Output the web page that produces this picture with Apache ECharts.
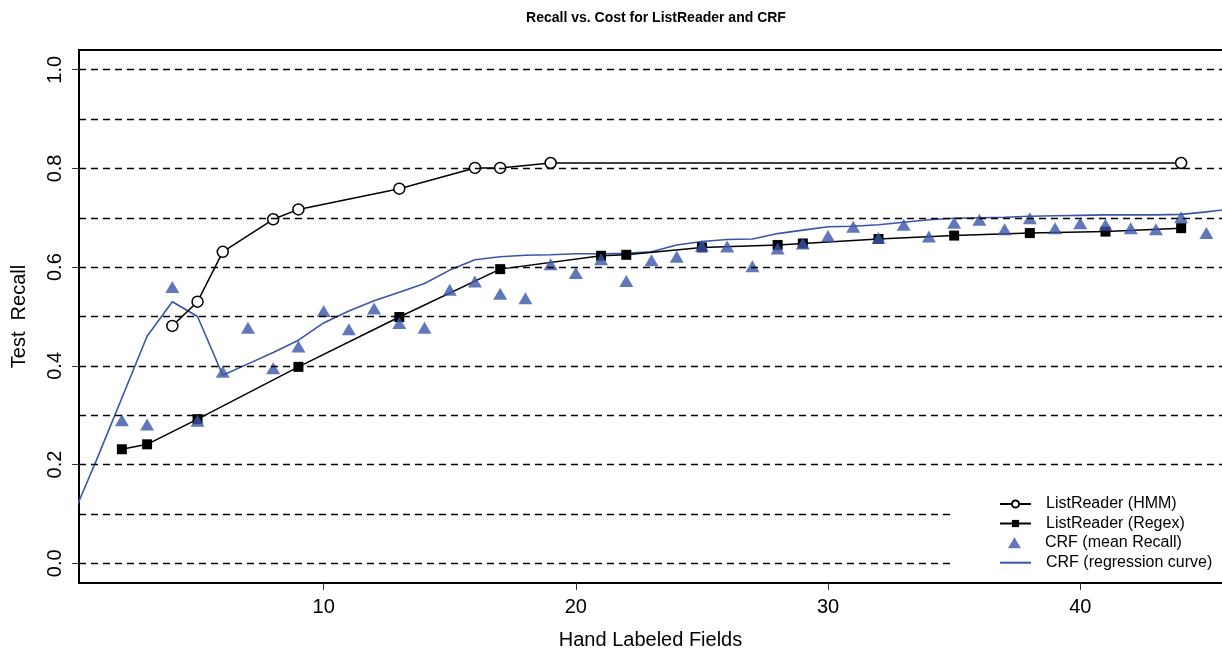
<!DOCTYPE html>
<html>
<head>
<meta charset="utf-8">
<script src="https://cdn.jsdelivr.net/npm/echarts@6/dist/echarts.min.js"></script>
<style>
html,body{margin:0;padding:0;background:#fff;}
#chart{width:1222px;height:656px;}
</style>
</head>
<body>
<div id="chart"></div>
<script>
// ---- data ----
const hmmX = [4, 5, 6, 8, 9, 13, 16, 17, 19, 44];
const hmmY = [0.481, 0.530, 0.631, 0.697, 0.717, 0.759, 0.801, 0.801, 0.811, 0.811];

const regexX = [2, 3, 5, 9, 13, 17, 21, 22, 25, 28, 29, 32, 35, 38, 41, 44];
const regexY = [0.231, 0.241, 0.292, 0.398, 0.499, 0.596, 0.623, 0.625, 0.640, 0.645, 0.648, 0.657, 0.664, 0.669, 0.672, 0.679];

const crfX = [2, 3, 4, 5, 6, 7, 8, 9, 10, 11, 12, 13, 14, 15, 16, 17, 18, 19, 20, 21, 22, 23,
  24, 25, 26, 27, 28, 29, 30, 31, 32, 33, 34, 35, 36, 37, 38, 39, 40, 41, 42, 43, 44, 45];
const crfY = [0.290, 0.281, 0.560, 0.289, 0.388, 0.477, 0.395, 0.439, 0.511, 0.474, 0.516, 0.487,
  0.477, 0.554, 0.571, 0.546, 0.537, 0.606, 0.588, 0.616, 0.572, 0.614, 0.621, 0.643, 0.642,
  0.602, 0.638, 0.648, 0.663, 0.682, 0.659, 0.686, 0.662, 0.690, 0.696, 0.677, 0.699, 0.679,
  0.689, 0.686, 0.679, 0.677, 0.701, 0.669];

const regX = [0, 1, 2, 3, 4, 5, 6, 7, 8, 9, 10, 11, 12, 13, 14, 15, 16, 17, 18, 19, 20, 21, 22, 23,
  24, 25, 26, 27, 28, 29, 30, 31, 32, 33, 34, 35, 36, 37, 38, 39, 40, 41, 42, 43, 44, 45, 46];
const regY = [0.090, 0.210, 0.335, 0.460, 0.530, 0.500, 0.381, 0.404, 0.427, 0.452, 0.487, 0.511,
  0.532, 0.549, 0.567, 0.594, 0.615, 0.621, 0.624, 0.625, 0.627, 0.627, 0.628, 0.631, 0.645,
  0.652, 0.656, 0.657, 0.668, 0.675, 0.682, 0.683, 0.686, 0.691, 0.696, 0.699, 0.700, 0.701,
  0.703, 0.704, 0.705, 0.706, 0.706, 0.706, 0.707, 0.712, 0.718];

const xTicks = [10, 20, 30, 40];
const yTicks = [0.0, 0.2, 0.4, 0.6, 0.8, 1.0];
const yGridLines = [0.0, 0.1, 0.2, 0.3, 0.4, 0.5, 0.6, 0.7, 0.8, 0.9, 1.0];

const names = ['ListReader (HMM)', 'ListReader (Regex)', 'CRF (mean Recall)', 'CRF (regression curve)'];

function pairs(xs, ys) { return xs.map((x, i) => [x, ys[i]]); }

const BLUE = '#3A55A8';
const FONT = '"Liberation Sans", Arial, sans-serif';
const legendText = {fontFamily: FONT, fontSize: 16, color: '#000', lineHeight: 16};
const X_MIN = 0.3, X_MAX = 45.62;
const frameLine = {show: true, onZero: false, lineStyle: {color: '#000', width: 2}};

const chart = echarts.init(document.getElementById('chart'), null, {renderer: 'canvas'});
chart.setOption({
  animation: false,
  backgroundColor: '#fff',
  title: {
    text: 'Recall vs. Cost for ListReader and CRF',
    left: 651,
    textAlign: 'center',
    top: 6,
    textStyle: {fontFamily: FONT, fontSize: 14, fontWeight: 'bold', color: '#000'}
  },
  grid: {left: 79, right: 0, top: 50, bottom: 73, show: false},
  legend: [
    {
      data: [names[0], names[1]],
      orient: 'vertical',
      left: 950,
      top: 486,
      padding: [10, 90, 50, 49],
      backgroundColor: '#fff',
      itemWidth: 31,
      itemHeight: 9,
      itemGap: 3.5,
      z: 20,
      textStyle: Object.assign({padding: [0, 0, 0, 10]}, legendText)
    },
    {
      data: [names[2]],
      orient: 'vertical',
      left: 1008,
      top: 534.7,
      padding: 0,
      itemWidth: 13,
      itemHeight: 11,
      z: 21,
      textStyle: Object.assign({padding: [0, 0, 0, 19]}, legendText)
    },
    {
      data: [{name: names[3], itemStyle: {color: 'rgba(0,0,0,0)', borderWidth: 0}}],
      orient: 'vertical',
      left: 999,
      top: 554.7,
      padding: 0,
      itemWidth: 31,
      itemHeight: 9,
      z: 21,
      textStyle: Object.assign({padding: [0, 0, 0, 10]}, legendText)
    }
  ],
  xAxis: [
    {
      type: 'value',
      position: 'bottom',
      min: X_MIN,
      max: X_MAX,
      name: 'Hand Labeled Fields',
      nameLocation: 'middle',
      nameGap: 47,
      nameTextStyle: {fontFamily: FONT, fontSize: 20, color: '#000', verticalAlign: 'top'},
      axisLine: frameLine,
      axisTick: {show: true, inside: false, length: 7, lineStyle: {color: '#333', width: 1}, customValues: xTicks},
      axisLabel: {show: true, fontFamily: FONT, fontSize: 20, color: '#000', margin: 14, customValues: xTicks},
      splitLine: {show: false}
    },
    {
      type: 'value',
      position: 'top',
      min: X_MIN,
      max: X_MAX,
      axisLine: frameLine,
      axisTick: {show: false},
      axisLabel: {show: false},
      splitLine: {show: false}
    }
  ],
  yAxis: {
    type: 'value',
    min: -0.04,
    max: 1.04,
    name: 'Test  Recall',
    nameLocation: 'middle',
    nameRotate: 90,
    nameGap: 50,
    nameTextStyle: {fontFamily: FONT, fontSize: 20, color: '#000'},
    axisLine: frameLine,
    axisTick: {show: true, inside: false, length: 7, lineStyle: {color: '#333', width: 1}, customValues: yTicks},
    axisLabel: {
      show: true, rotate: 90, fontFamily: FONT, fontSize: 20, color: '#000', margin: 14,
      customValues: yTicks,
      formatter: v => v.toFixed(1)
    },
    splitLine: {show: false}
  },
  series: [
    {
      name: names[3],
      type: 'line',
      data: pairs(regX, regY),
      symbol: 'none',
      lineStyle: {color: BLUE, width: 1.6},
      itemStyle: {color: BLUE},
      z: 2,
      clip: true,
      markLine: {
        silent: true,
        symbol: 'none',
        label: {show: false},
        lineStyle: {color: '#000', type: [7, 5], width: 1.4},
        data: yGridLines.map(v => ({yAxis: v}))
      }
    },
    {
      name: names[1],
      type: 'line',
      data: pairs(regexX, regexY),
      symbol: 'rect',
      symbolSize: 10,
      lineStyle: {color: '#000', width: 1.5},
      itemStyle: {color: '#000'},
      z: 3
    },
    {
      name: names[0],
      type: 'line',
      data: pairs(hmmX, hmmY),
      symbol: 'circle',
      symbolSize: 11,
      lineStyle: {color: '#000', width: 1.5},
      itemStyle: {color: '#fff', borderColor: '#000', borderWidth: 1.5},
      z: 3
    },
    {
      name: names[2],
      type: 'scatter',
      data: pairs(crfX, crfY),
      symbol: 'triangle',
      symbolSize: [14, 12],
      itemStyle: {color: BLUE},
      z: 4
    }
  ]
});
</script>
</body>
</html>
